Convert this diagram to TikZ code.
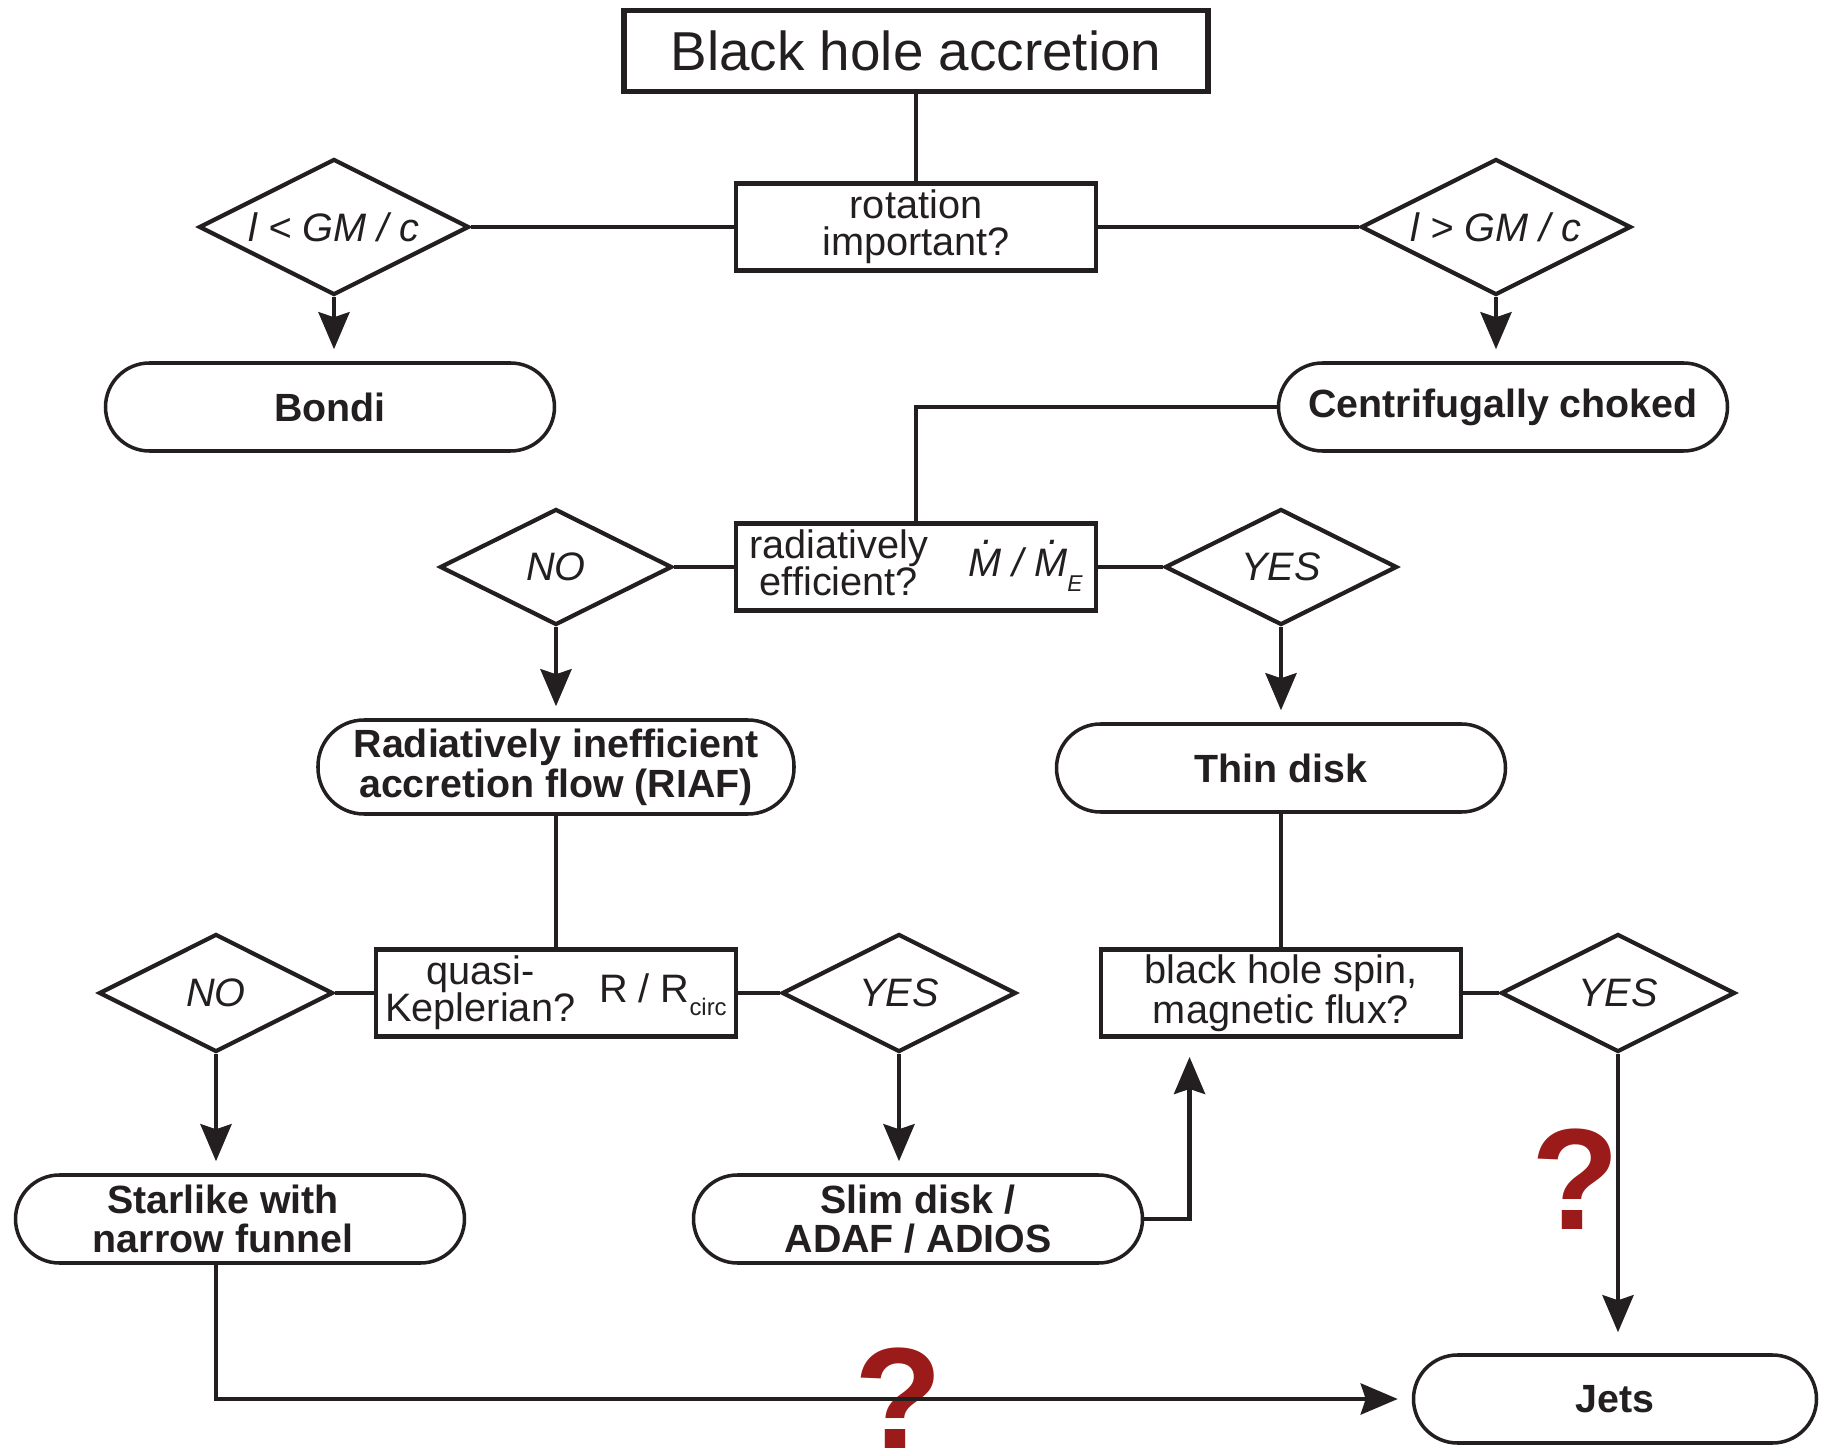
\documentclass[tikz,border=0pt]{standalone}
\usepackage{fontspec}
\setmainfont{Liberation Sans}
\usepackage{xcolor}
\usepackage{tikz}
\usetikzlibrary{arrows.meta,shapes.geometric,calc}
\definecolor{inkblack}{RGB}{35,31,32}
\definecolor{queryred}{RGB}{155,27,27}
\renewcommand{\arraystretch}{0.8}
\newcommand{\mdot}{\ooalign{M\cr\hidewidth\kern0.18em\raisebox{0.8em}{.}\hidewidth\cr}}

\begin{document}
\begin{tikzpicture}[x=0.1mm,y=-0.1mm,color=inkblack,
question/.style={draw,line width=1.4pt,minimum width=36mm,minimum height=8.7mm,inner sep=0pt,
align=center,font=\fontsize{11.3}{10.5}\selectfont},
choice/.style={diamond,aspect=2.2,draw,line width=1.2pt,inner sep=0pt,minimum width=23.4mm,minimum height=11.8mm,
font=\fontsize{11.3}{13}\selectfont\itshape},
outcome/.style={draw,line width=1pt,rounded corners=4.4mm,minimum width=44.9mm,minimum height=8.8mm,
inner sep=0pt,align=center,font=\fontsize{11.2}{11.3}\selectfont\bfseries},
unknown/.style={inner sep=0pt,text=queryred,font=\fontsize{41}{41}\selectfont\bfseries},
link/.style={line width=1.3pt},
arrow/.style={link,-{Stealth[length=3.7mm,width=3.1mm,inset=0.5mm]},shorten >=1.2mm}]
\useasboundingbox (0,0) rectangle (1822,1451);
\node[question,minimum width=58.4mm,minimum height=8.1mm,line width=1.6pt,
font=\fontsize{15.6}{18}\selectfont] (title) at (916,51) {Black hole accretion};
\node[question] (rotq) at (916,227) {rotation\\important?};
\node[choice,minimum width=27mm,minimum height=13.6mm] (lowl) at (334,227) {l < GM / c};
\node[choice,minimum width=27mm,minimum height=13.6mm] (highl) at (1496,227) {l > GM / c};
\node[outcome] (bondi) at (330,407) {Bondi};
\node[outcome] (choked) at (1503,407) {Centrifugally choked};
\node[question] (radq) at (916,567) {\begin{tabular}{@{}c@{}}radiatively\\efficient?\end{tabular}\hspace{1em}%
{\itshape\mdot{} / \mdot\raisebox{-1.5mm}{\fontsize{6.5}{6.5}\selectfont E}}};
\node[choice,minimum width=23.2mm,minimum height=11.6mm] (radno) at (556,567) {NO};
\node[choice,minimum width=23.2mm,minimum height=11.6mm] (radyes) at (1281,567) {YES};
\node[outcome,minimum width=47.6mm,minimum height=9.4mm,rounded corners=4.6mm] (riaf) at (556,767)
{Radiatively inefficient\\accretion flow (RIAF)};
\node[outcome] (thin) at (1281,768) {Thin disk};
\node[question] (keplq) at (556,993) {\begin{tabular}{@{}c@{}}quasi-\\Keplerian?\end{tabular}\hspace{0.6em}%
R / R\raisebox{-1.3mm}{\fontsize{6.8}{6.8}\selectfont circ}};
\node[choice] (keplno) at (216,993) {NO};
\node[choice] (keplyes) at (899,993) {YES};
\node[question] (spinq) at (1281,993) {black hole spin,\\magnetic flux?};
\node[choice] (spinyes) at (1618,993) {YES};
\node[outcome] (star) at (240,1219) {Starlike with\hspace*{3.4mm}\\narrow funnel\hspace*{3.4mm}};
\node[outcome] (slim) at (918,1219) {Slim disk /\\ADAF / ADIOS};
\node[outcome,minimum width=40.3mm] (jets) at (1615,1399) {Jets};
\node[unknown] (q1) at (1575,1179) {?};
\node[unknown] (q2) at (899,1398) {?};
\draw[link] (title) -- (rotq); \draw[link] (lowl) -- (rotq); \draw[link] (rotq) -- (highl);
\draw[arrow] (lowl.south) -- (lowl.south |- bondi.north);
\draw[arrow] (highl.south) -- (highl.south |- choked.north);
\draw[link] (choked.west) -| (radq.north);
\draw[link] (radno) -- (radq); \draw[link] (radq) -- (radyes);
\draw[arrow] (radno.south) -- (radno.south |- riaf.north);
\draw[arrow] (radyes.south) -- (radyes.south |- thin.north);
\draw[link] (riaf) -- (keplq); \draw[link] (thin) -- (spinq);
\draw[link] (keplno) -- (keplq); \draw[link] (keplq) -- (keplyes); \draw[link] (spinq) -- (spinyes);
\draw[arrow] (keplno.south) -- (keplno.south |- star.north);
\draw[arrow] (keplyes.south) -- (keplyes.south |- slim.north);
\draw[arrow,shorten >=1.8mm] (slim.east) -| ($(spinq.south west)+(91,0)$);
\draw[arrow,shorten >=2.1mm] (spinyes.south) -- (spinyes.south |- jets.north);
\draw[arrow,shorten >=1.4mm] (star.south -| keplno.south) |- (jets.west);
\end{tikzpicture}
\end{document}
